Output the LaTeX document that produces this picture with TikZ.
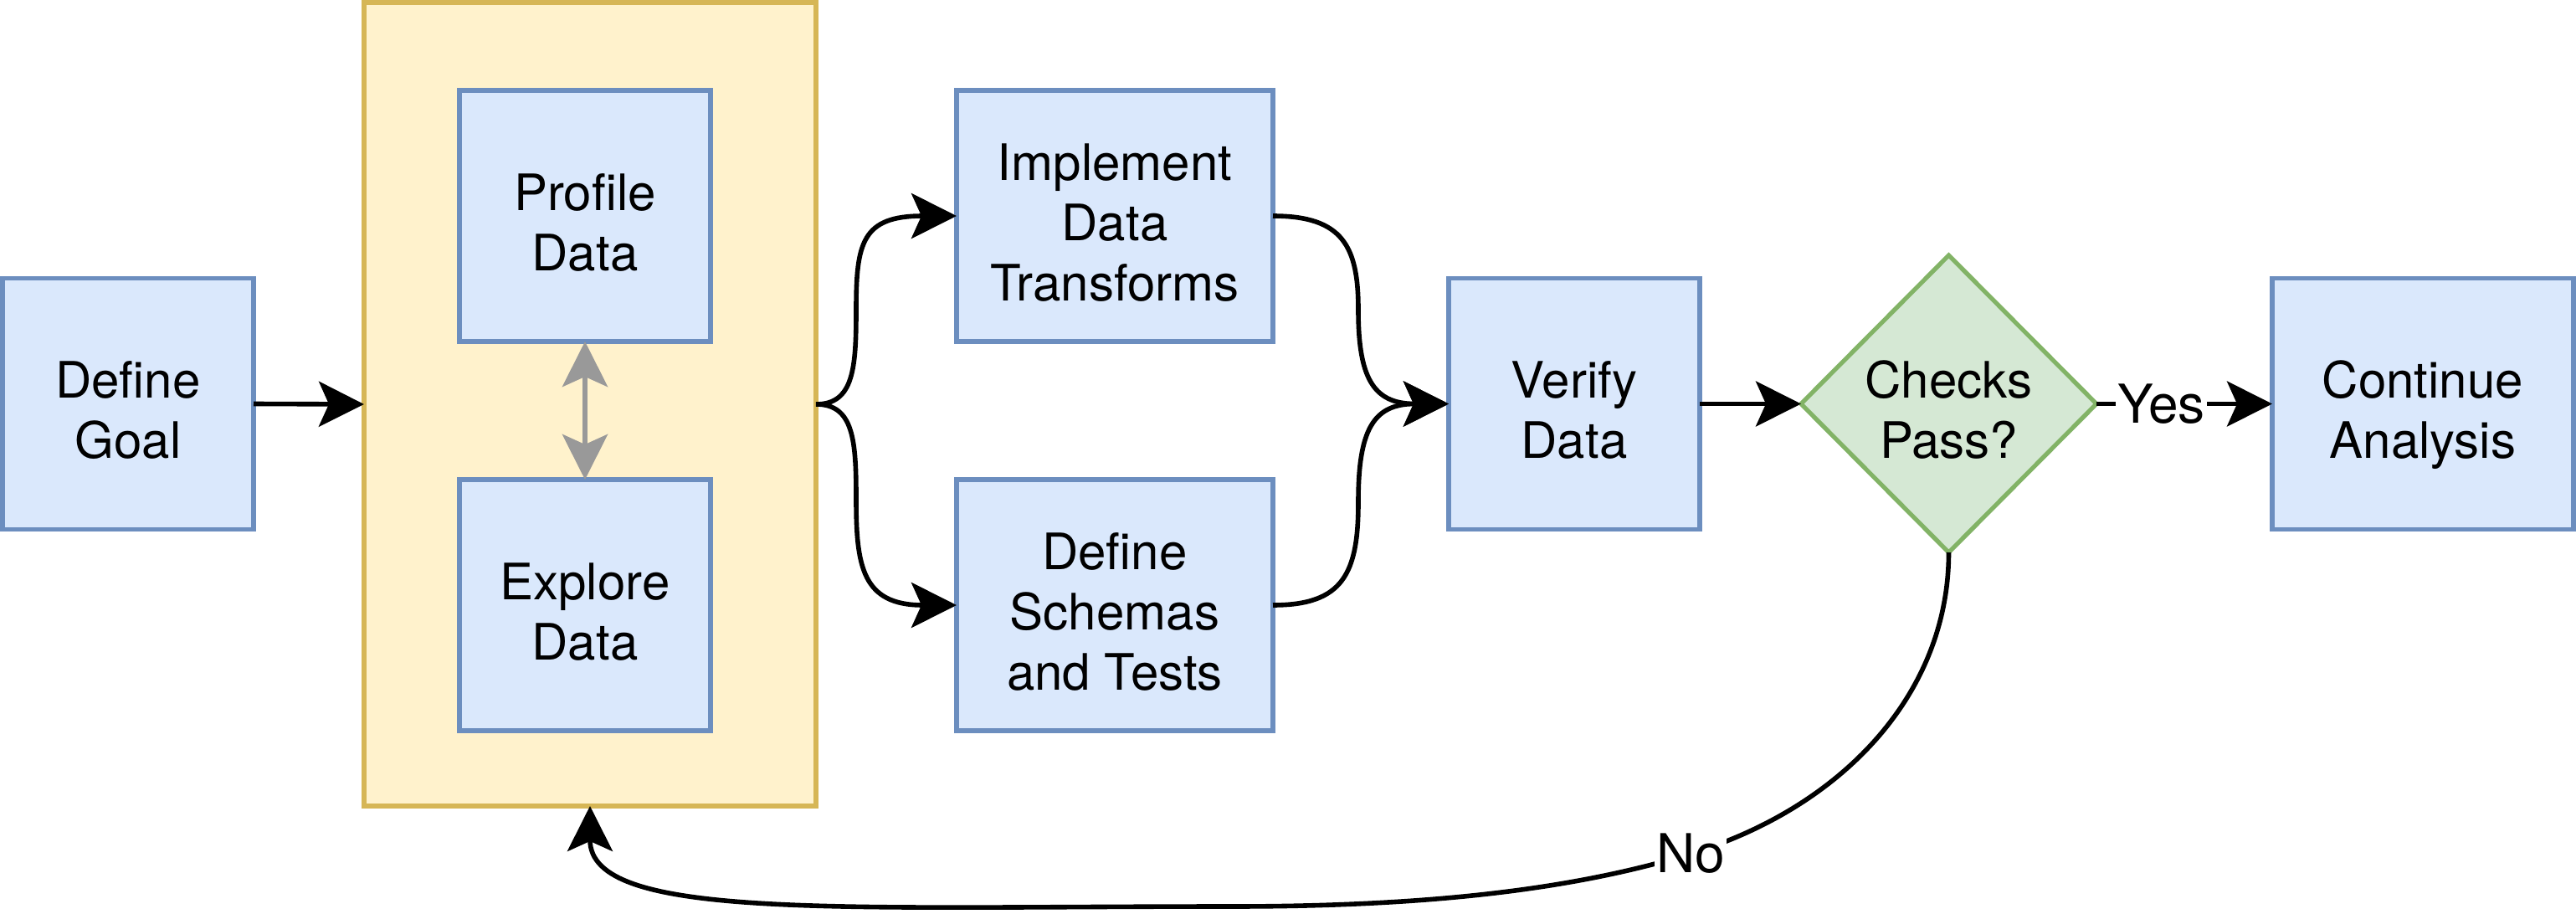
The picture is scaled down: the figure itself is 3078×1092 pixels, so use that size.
\documentclass[tikz,border=0pt]{standalone}
\usepackage{fontspec}
\setmainfont{TeX Gyre Heros}
\usetikzlibrary{arrows.meta,shapes.geometric}
\definecolor{bfill}{HTML}{DAE8FC}
\definecolor{bline}{HTML}{6C8EBF}
\definecolor{yfill}{HTML}{FFF2CC}
\definecolor{yline}{HTML}{D6B656}
\definecolor{gfill}{HTML}{D5E8D4}
\definecolor{gline}{HTML}{82B366}
\definecolor{garrow}{HTML}{999999}
\newcommand\mytop{\rule{0pt}{19.5pt}}
\newcommand\mybot{\rule[-5pt]{0pt}{5pt}}
\begin{document}
\begin{tikzpicture}[x=0.25pt,y=-0.25pt,
  every node/.style={inner sep=0pt, outer sep=0pt, font=\fontsize{15pt}{18pt}\selectfont, align=center},
  proc/.style={draw=bline, fill=bfill, line width=1.4pt, rectangle, minimum width=75pt, minimum height=75pt},
  grpbox/.style={draw=yline, fill=yfill, line width=1.3pt, rectangle, minimum width=135pt, minimum height=240pt},
  dec/.style={draw=gline, fill=gfill, line width=1.3pt, diamond, minimum width=88.25pt, minimum height=88.75pt},
  tip/.style={-{Stealth[length=13.5pt,width=13.5pt,inset=3pt]}},
  conn/.style={draw=black, line width=1.4pt, tip},
  gconn/.style={draw=garrow, line width=1.6pt, {Stealth[length=13.5pt,width=13.5pt,inset=3pt]}-{Stealth[length=13.5pt,width=13.5pt,inset=3pt]}},
  lbl/.style={fill=white, inner xsep=0.5pt, inner ysep=1pt, font=\fontsize{16pt}{19pt}\selectfont},
]
\useasboundingbox (0,0) rectangle (3078,1092);
\fill[white] (0,0) rectangle (3078,1092);

\node[grpbox] (grp) at (705,483) {};
\node[proc] (dg) at (153,482.5) {\mytop Define\\Goal\mybot};
\node[proc] (prof) at (699,258) {\mytop Profile\\Data\mybot};
\node[proc] (expl) at (699,723) {\mytop Explore\\Data\mybot};
\node[proc, minimum width=94.5pt] (impl) at (1332,258) {\mytop Implement\\Data\\Transforms\mybot};
\node[proc, minimum width=94.5pt] (sch) at (1332,723) {\mytop Define\\Schemas\\and Tests\mybot};
\node[proc] (ver) at (1881,482.5) {\mytop Verify\\Data\mybot};
\node[dec, label={center:{\mytop Checks\\Pass?\mybot}}] (chk) at (2328.5,482.5) {};
\node[proc, minimum width=90pt] (cont) at (2895,482.5) {\mytop Continue\\Analysis\mybot};

\draw[conn] (dg.east) -- (grp.west);
\draw[conn] (grp.east) .. controls (1020,483) and (1023,440) .. (1023,370) .. controls (1023,290) and (1030,258) .. (impl.west);
\draw[conn] (grp.east) .. controls (1020,483) and (1023,526) .. (1023,596) .. controls (1023,676) and (1030,723) .. (sch.west);
\draw[conn] (impl.east) .. controls (1605,258) and (1623,295) .. (1623,370) .. controls (1623,450) and (1640,482.5) .. (ver.west);
\draw[conn] (sch.east) .. controls (1605,723) and (1623,685) .. (1623,600) .. controls (1623,515) and (1640,482.5) .. (ver.west);
\draw[gconn] (prof.south) -- (expl.north);
\draw[conn] (ver.east) -- (chk.west);
\draw[conn] (chk.east) -- node[lbl, pos=0.37] {Yes} (cont.west);
\draw[conn] (chk.south) .. controls (2328.5,830) and (2200,965) .. (2020,1020) node[lbl] {No}
  .. controls (1876,1064) and (1700,1083) .. (1472,1083)
  .. controls (1000,1083) and (705,1100) .. (grp.south);
\end{tikzpicture}
\end{document}
